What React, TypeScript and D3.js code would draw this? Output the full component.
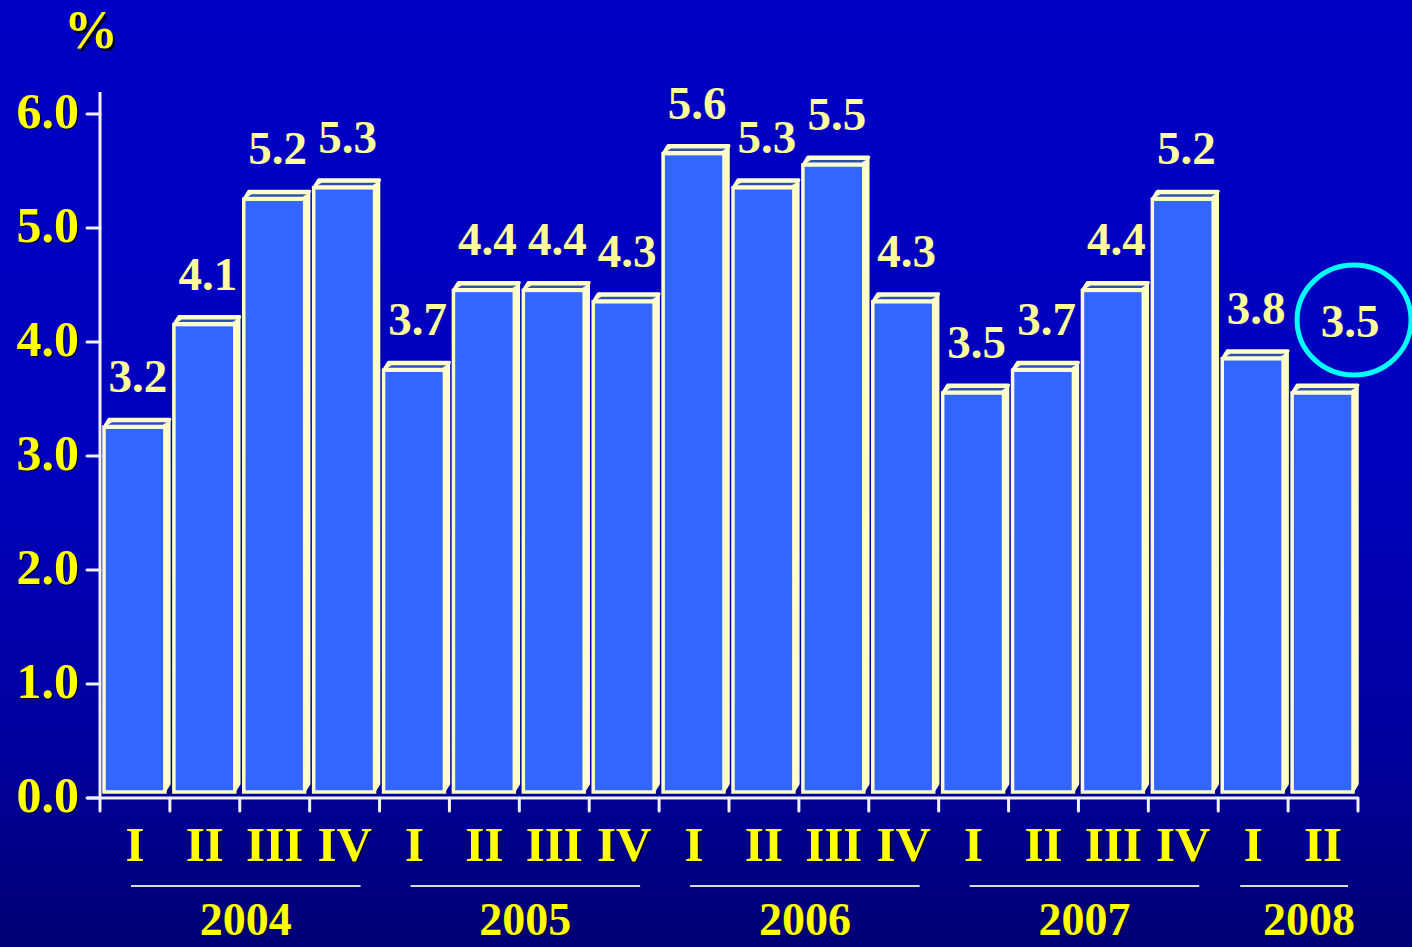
import React from "react";
import * as d3 from "d3";

const quarters = ["I", "II", "III", "IV", "I", "II", "III", "IV", "I", "II", "III", "IV", "I", "II", "III", "IV", "I", "II"];
const years = ["2004", "2004", "2004", "2004", "2005", "2005", "2005", "2005", "2006", "2006", "2006", "2006", "2007", "2007", "2007", "2007", "2008", "2008"];
const values = [3.2, 4.1, 5.2, 5.3, 3.7, 4.4, 4.4, 4.3, 5.6, 5.3, 5.5, 4.3, 3.5, 3.7, 4.4, 5.2, 3.8, 3.5];
const yTicks = [0, 1, 2, 3, 4, 5, 6];
const yearList = ["2004", "2005", "2006", "2007", "2008"];
const highlightIndex = 17;

const W = 1412;
const H = 947;
const left = 100;
const right = 1358;
const y0px = 798;
const FONT = "'Liberation Serif', 'Times New Roman', serif";

export default function App() {
  const ids = values.map((_, i) => String(i));
  const x = d3.scaleBand<string>().domain(ids).range([left, right]).padding(0);
  const y = d3.scaleLinear().domain([0, 6]).range([y0px, y0px - 6 * 114]);
  const bw = x.bandwidth();

  const lift = 6; // 3D floor offset
  const dx = 5;
  const dy = 8;

  const bars = values.map((v, i) => {
    const bs = x(String(i)) as number;
    const fx = bs + 4;
    const fw = bw - 9;
    const top = y(v) - lift;
    const bottom = y(0) - lift;
    const side = `${fx + fw},${top} ${fx + fw + dx},${top - dy} ${fx + fw + dx},${bottom - dy} ${fx + fw},${bottom}`;
    const cap = `${fx},${top} ${fx + dx},${top - dy} ${fx + fw + dx},${top - dy} ${fx + fw},${top}`;
    const strip = `${fx + 4},${top - 2.5} ${fx + dx + 3},${top - dy + 3} ${fx + fw + dx - 3},${top - dy + 3} ${fx + fw - 2},${top - 2.5}`;
    return (
      <g key={i}>
        <polygon points={side} fill="#ffffcc" stroke="#ffffcc" strokeWidth={1.5} strokeLinejoin="round" />
        <polygon points={cap} fill="#ffffcc" stroke="#ffffcc" strokeWidth={3} strokeLinejoin="round" />
        <polygon points={strip} fill="#2d50b8" />
        <rect x={fx} y={top} width={fw} height={bottom - top} fill="#3366ff" stroke="#ffffcc" strokeWidth={3.5} />
      </g>
    );
  });

  const hl = {
    cx: (x(String(highlightIndex)) as number) + bw / 2 + 31,
    cy: y(values[highlightIndex]) - 79,
  };

  const labels = values.map((v, i) => {
    const isHl = i === highlightIndex;
    const cx = isHl ? hl.cx - 4 : (x(String(i)) as number) + bw / 2 + 3;
    const ly = isHl ? hl.cy + 17 : y(v) - lift - dy - 27;
    return (
      <text key={i} x={cx} y={ly} textAnchor="middle" fontFamily={FONT} fontWeight="bold" fontSize={47} fill="#ffff99">
        {d3.format(".1f")(v)}
      </text>
    );
  });

  const shadowText = (key: string, tx: number, ty: number, txt: string, anchor: string, size: number, fill: string, off = 1.5) => (
    <g key={key}>
      <text x={tx + off} y={ty + off} textAnchor={anchor} fontFamily={FONT} fontWeight="bold" fontSize={size} fill="#000033">{txt}</text>
      <text x={tx} y={ty} textAnchor={anchor} fontFamily={FONT} fontWeight="bold" fontSize={size} fill={fill}>{txt}</text>
    </g>
  );

  const yearGroups = yearList.map((yr) => {
    const idx = years.map((v, i) => (v === yr ? i : -1)).filter((i) => i >= 0);
    const first = x(String(idx[0])) as number;
    const last = (x(String(idx[idx.length - 1])) as number) + bw;
    const n = idx.length;
    const c = (first + last) / 2;
    const half = n * bw / 2 - (n >= 4 ? 25 : 16);
    const lc = c + 6;
    const tc = c + (n >= 4 ? 6 : 21);
    return { yr, lc, half, tc };
  });

  return (
    <svg width={W} height={H} style={{ position: "absolute", left: 0, top: 0, display: "block" }}>
      <defs>
        <linearGradient id="bg" x1="0" y1="0" x2="0" y2="1">
          <stop offset="0" stopColor="#0000c4" />
          <stop offset="0.5" stopColor="#0000bc" />
          <stop offset="0.8" stopColor="#00009c" />
          <stop offset="1" stopColor="#000074" />
        </linearGradient>
      </defs>
      <rect x={0} y={0} width={W} height={H} fill="url(#bg)" />

      {shadowText("pct", 91, 48, "%", "middle", 54, "#ffff00", 2.5)}

      {/* y axis */}
      <line x1={left} x2={left} y1={92} y2={y0px + 1} stroke="#f0f0f8" strokeWidth={3} />
      {yTicks.map((t) => (
        <g key={t}>
          <line x1={87} x2={left} y1={y(t)} y2={y(t)} stroke="#f0f0f8" strokeWidth={3} strokeLinecap="round" />
          {shadowText("yt" + t, 79, y(t) + 14, d3.format(".1f")(t), "end", 50, "#ffff00", 1.2)}
        </g>
      ))}

      {bars}

      {/* x axis */}
      <line x1={87} x2={right} y1={y0px} y2={y0px} stroke="#f0f0f8" strokeWidth={3} />
      {d3.range(values.length + 1).map((i) => {
        const tx = left + i * bw;
        return <line key={i} x1={tx} x2={tx} y1={y0px} y2={y0px + 13} stroke="#f0f0f8" strokeWidth={3} strokeLinecap="round" />;
      })}

      {quarters.map((q, i) =>
        shadowText("q" + i, (x(String(i)) as number) + bw / 2, 861, q, "middle", 49, "#ffff00", 1.2)
      )}

      {yearGroups.map((g) => (
        <g key={g.yr}>
          <line x1={g.lc - g.half} x2={g.lc + g.half} y1={886} y2={886} stroke="#d8d8e8" strokeWidth={2} />
          {shadowText("y" + g.yr, g.tc, 935, g.yr, "middle", 46, "#ffff00", 1.2)}
        </g>
      ))}

      {labels}

      <ellipse cx={hl.cx} cy={hl.cy} rx={57} ry={55} fill="none" stroke="#00ffff" strokeWidth={5} />
    </svg>
  );
}
